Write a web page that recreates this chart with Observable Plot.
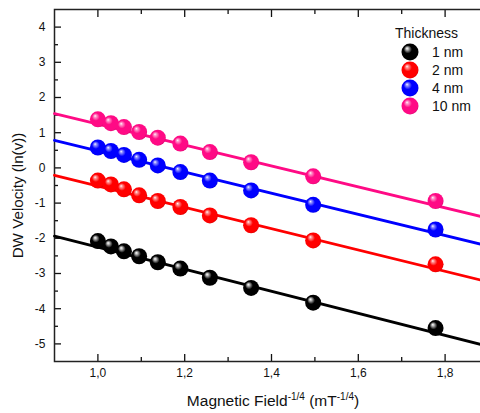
<!DOCTYPE html>
<html><head><meta charset="utf-8">
<script src="https://cdn.jsdelivr.net/npm/d3@7"></script>
<script src="https://cdn.jsdelivr.net/npm/@observablehq/plot@0.6"></script>
<style>
body{margin:0;background:#fff}
#chart{position:relative;width:480px;height:413px;overflow:hidden}
#legend{position:absolute;left:0;top:0;pointer-events:none}
</style>
</head><body><div id="chart"></div>
<script>
// ---- data ----
const fieldValues = [1.00, 1.03, 1.06, 1.095, 1.138, 1.19, 1.258, 1.353, 1.496, 1.778];
const series = ["1 nm", "2 nm", "4 nm", "10 nm"];
const colors = ["#000000", "#ff0000", "#0000ff", "#ff0a85"];
const v1nm  = [-2.08, -2.23, -2.37, -2.51, -2.68, -2.86, -3.12, -3.41, -3.83, -4.55];
const v2nm  = [-0.36, -0.47, -0.61, -0.78, -0.94, -1.11, -1.35, -1.63, -2.06, -2.74];
const v4nm  = [0.58, 0.48, 0.37, 0.23, 0.07, -0.12, -0.36, -0.64, -1.05, -1.75];
const v10nm = [1.38, 1.27, 1.16, 1.02, 0.86, 0.69, 0.45, 0.16, -0.24, -0.94];
const fitField = [0.9, 1.9];
const fit1nm  = [-1.94, -5.07];
const fit2nm  = [-0.21, -3.24];
const fit4nm  = [0.78, -2.22];
const fit10nm = [1.54, -1.43];
const xTicks = [1.0, 1.2, 1.4, 1.6, 1.8];
const xMinor = [1.1, 1.3, 1.5, 1.7];
const yTicks = [-5, -4, -3, -2, -1, 0, 1, 2, 3, 4];
const yMinor = [-4.5, -3.5, -2.5, -1.5, -0.5, 0.5, 1.5, 2.5, 3.5];
const xLabel = ["Magnetic Field", "-1/4", " (mT", "-1/4", ")"];
const yLabel = "DW Velocity (ln(v))";
const legendTitle = "Thickness";

const vals = [v1nm, v2nm, v4nm, v10nm];
const fits = [fit1nm, fit2nm, fit4nm, fit10nm];
const points = series.flatMap((s, i) => fieldValues.map((x, j) => ({s, x, y: vals[i][j]})));
const fitRows = series.flatMap((s, i) => fitField.map((x, j) => ({s, x, y: fits[i][j]})));

const font = "Liberation Sans, Arial, sans-serif";
const fmtX = d => d.toFixed(1).replace(".", ",");
const fmtY = d => String(d);

const plot = Plot.plot({
  width: 480, height: 413,
  marginLeft: 54, marginRight: -8, marginTop: 9, marginBottom: 52,
  x: {domain: [0.9, 1.9]},
  y: {domain: [-5.5, 4.5]},
  color: {domain: series, range: colors},
  style: {fontFamily: font, fontSize: "12px", color: "#111", background: "#fff"},
  marks: [
    Plot.axisX({ticks: xTicks, tickSize: -7, tickPadding: 14, tickFormat: fmtX, label: null, strokeWidth: 1.3}),
    Plot.axisX({ticks: xMinor, tickSize: -4, tickFormat: () => "", label: null, strokeWidth: 1.3}),
    Plot.axisX({anchor: "top", ticks: xTicks, tickSize: -7, tickFormat: () => "", label: null, strokeWidth: 1.3}),
    Plot.axisX({anchor: "top", ticks: xMinor, tickSize: -4, tickFormat: () => "", label: null, strokeWidth: 1.3}),
    Plot.axisY({ticks: yTicks, tickSize: -7, tickPadding: 16, tickFormat: fmtY, label: null, strokeWidth: 1.3}),
    Plot.axisY({ticks: yMinor, tickSize: -4, tickFormat: () => "", label: null, strokeWidth: 1.3}),
    Plot.frame({stroke: "#222", strokeWidth: 1.5}),
    Plot.line(fitRows, {x: "x", y: "y", z: "s", stroke: "s", strokeWidth: 2.8}),
    Plot.dot(points, {x: "x", y: "y", r: 8, fill: "s"})
  ]
});

const svg = d3.select(plot);
function addGradients(defs, prefix) {
  colors.forEach((c, i) => {
    const base = d3.color(c);
    const dark = i === 0 ? d3.rgb(0, 0, 0) : base.darker(0.6);
    const mid = d3.interpolateRgb(c, "#fff")(i === 0 ? 0.75 : 0.6);
    const g = defs.append("radialGradient").attr("id", prefix + i)
      .attr("cx", "0.45").attr("cy", "0.45").attr("r", "0.6")
      .attr("fx", "0.32").attr("fy", "0.28");
    g.append("stop").attr("offset", "0").attr("stop-color", "#ffffff");
    g.append("stop").attr("offset", "0.12").attr("stop-color", mid);
    g.append("stop").attr("offset", "0.4").attr("stop-color", c);
    g.append("stop").attr("offset", "0.85").attr("stop-color", c);
    g.append("stop").attr("offset", "1").attr("stop-color", dark.formatHex());
  });
}
addGradients(svg.insert("defs", ":first-child"), "ball");
const hexes = colors.map(c => d3.color(c).formatHex());
svg.selectAll("circle").each(function () {
  const f = this.getAttribute("fill");
  if (!f) return;
  const k = hexes.indexOf(d3.color(f).formatHex());
  if (k >= 0) this.setAttribute("fill", `url(#ball${k})`);
});

// axis titles
const xt = svg.append("text").attr("x", 273).attr("y", 406).attr("text-anchor", "middle")
  .attr("font-family", font).attr("font-size", 15.5).attr("fill", "#111");
xLabel.forEach((t, i) => {
  const sp = xt.append("tspan").text(t);
  if (i % 2 === 1) sp.attr("font-size", 10).attr("dy", -6);
  else if (i > 0) sp.attr("dy", 6);
});
svg.append("text").attr("transform", "translate(23,195.5) rotate(-90)").attr("text-anchor", "middle")
  .attr("font-family", font).attr("font-size", 15.2).attr("fill", "#111").text(yLabel);

const chart = document.getElementById("chart");
chart.appendChild(plot);

// legend
const lg = d3.select(chart).append("svg").attr("id", "legend").attr("width", 480).attr("height", 413);
addGradients(lg.append("defs"), "lball");
lg.append("text").attr("x", 395).attr("y", 37.5).attr("font-family", font).attr("font-size", 14)
  .attr("fill", "#111").text(legendTitle);
series.forEach((s, i) => {
  const cy = 52 + i * 18;
  lg.append("circle").attr("cx", 410).attr("cy", cy).attr("r", 8.5).attr("fill", `url(#lball${i})`);
  lg.append("text").attr("x", 432).attr("y", cy + 5).attr("font-family", font).attr("font-size", 14)
    .attr("fill", "#111").text(s);
});
</script>
</body></html>
